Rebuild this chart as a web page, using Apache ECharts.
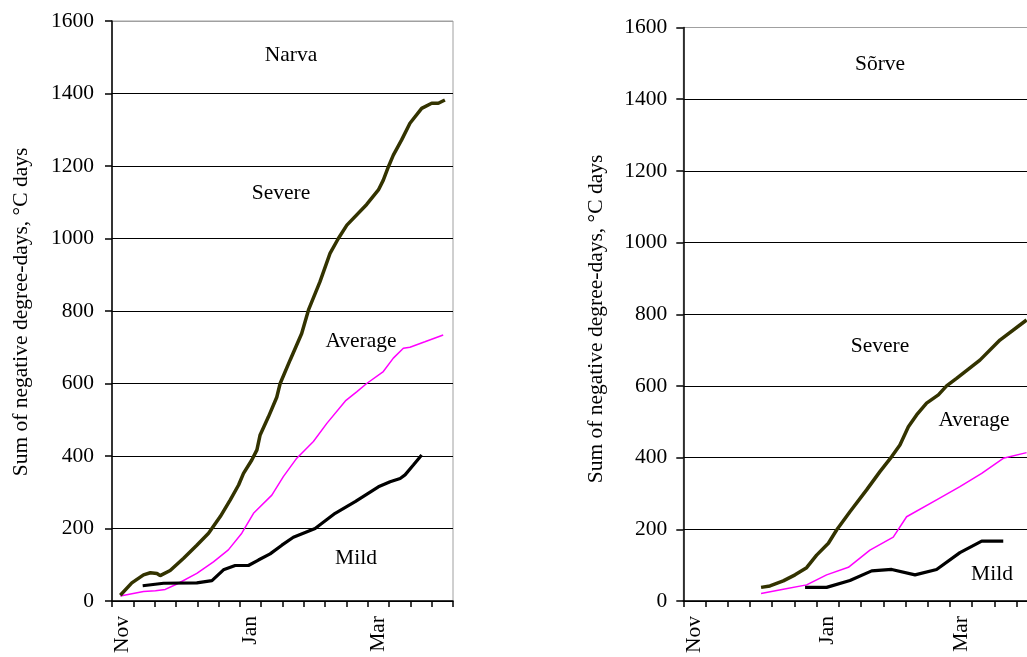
<!DOCTYPE html>
<html>
<head>
<meta charset="utf-8">
<script src="https://cdn.jsdelivr.net/npm/echarts@6/dist/echarts.min.js"></script>
<style>html,body{margin:0;padding:0;background:#fff;overflow:hidden;width:1027px;height:657px;}#c{width:1045px;height:657px;}</style>
</head>
<body>
<div id="c"></div>
<script>
// Category ticks: 16 ten-day periods starting 1 Nov
var xTickLabels = ['Nov','','','','','','Jan','','','','','','Mar','','',''];
var yTicks = [0, 200, 400, 600, 800, 1000, 1200, 1400, 1600];

// [day since 1 Nov, sum of negative degree-days]
var narvaSevere = [[3.9,16],[9.3,50],[14.8,72],[18,78],[21.1,76],[22.6,70],[27.3,84],[33.6,118],[39.8,154],[45.3,187],[50.8,233],[55.5,279],[59.4,320],[61.7,352],[65.6,389],[68,417],[69.5,458],[73.4,508],[77.3,562],[78.9,600],[83.6,665],[89,738],[92.2,803],[97.6,881],[102.3,959],[106.2,1000],[110.2,1037],[119.5,1094],[125,1134],[127.3,1161],[129.7,1198],[132,1230],[135.9,1272],[139.8,1318],[145.3,1359],[150,1373],[153.1,1373],[156.2,1382]];
var narvaAverage = [[3.9,14],[14.8,26],[20.4,28],[25,32],[30.5,47],[39.8,76],[47.6,108],[54.6,141],[60.9,187],[66.4,242],[75,292],[80.4,343],[86.7,394],[94.5,440],[100.8,490],[109.5,552],[114.8,577],[119.5,600],[127.3,633],[132,670],[136.7,697],[139.8,700],[146.8,715],[155.4,734]];
var narvaMild = [[14.4,42],[24.2,49],[39.8,50],[46.9,56],[52.3,86],[57.8,98],[64,98],[68.7,113],[74.2,130],[79.7,154],[85.1,176],[95.3,200],[104.7,242],[114.1,274],[125,315],[130.5,329],[135.2,338],[137.5,348],[141.4,375],[145.3,403]];
var sorveSevere = [[35,38],[39,42],[45,56],[50.3,73],[55.5,93],[60,128],[65.3,161],[69,198],[75,249],[82.5,310],[88.5,361],[93.8,403],[97.5,435],[101.3,486],[105,519],[109.5,552],[114.8,575],[118.5,600],[123,621],[133.5,672],[142.5,728],[154.5,784]];
var sorveAverage = [[35,21],[45,33],[55.5,45],[64.5,73],[74.3,94],[84,142],[94.5,178],[100.5,235],[114,282],[124.5,319],[134.3,356],[144,398],[154.5,414]];
var sorveMild = [[54.8,38],[64.5,38],[75,57],[84.8,84],[93.8,88],[104.3,73],[114,88],[124.5,135],[134.3,167],[144,167]];

var FONT = 'Liberation Serif';
var FS = 21.5;
var splitColors = yTicks.map(function (v, i) { return i === yTicks.length - 1 ? '#a0a0a0' : '#000'; });

function catAxis(gi) {
  return {
    type: 'category', gridIndex: gi, data: xTickLabels, boundaryGap: true,
    axisLine: { lineStyle: { color: '#000', width: 1.5 } },
    axisTick: { show: true, length: 6, interval: 0, lineStyle: { color: '#000', width: 1.5 } },
    axisLabel: { interval: 0, rotate: 90, margin: 15, color: '#000', fontFamily: FONT, fontSize: FS },
    splitLine: { show: false }
  };
}
function valXAxis(gi) {
  return { type: 'value', gridIndex: gi, min: 0, max: 160, show: false };
}
function yAx(gi, margin) {
  return {
    type: 'value', gridIndex: gi, min: 0, max: 1600, interval: 200,
    axisLine: { show: true, lineStyle: { color: '#000', width: 1.5 } },
    axisTick: { show: true, length: 7, lineStyle: { color: '#000', width: 1.5 } },
    axisLabel: { margin: margin, color: '#000', fontFamily: FONT, fontSize: FS,
      formatter: function (v) { return String(v); } },
    splitLine: { show: true, lineStyle: { color: splitColors, width: 1 } }
  };
}
function line(data, xi, yi, color, width) {
  return { type: 'line', xAxisIndex: xi, yAxisIndex: yi, data: data, showSymbol: false, symbol: 'none',
    lineStyle: { color: color, width: width }, itemStyle: { color: color }, silent: true, animation: false };
}
function txt(x, y, s, rot) {
  return { type: 'text', x: x, y: y, rotation: rot || 0,
    style: { text: s, font: FS + 'px "' + FONT + '"', fill: '#000', textAlign: 'center', textVerticalAlign: 'middle' } };
}

var chart = echarts.init(document.getElementById('c'));
chart.setOption({
  animation: false,
  backgroundColor: '#fff',
  grid: [
    { left: 112, top: 21, width: 341, height: 580, show: true, borderColor: '#a0a0a0', borderWidth: 1 },
    { left: 683.3, top: 27.5, width: 355.5, height: 573.5, show: true, borderColor: '#a0a0a0', borderWidth: 1 }
  ],
  xAxis: [catAxis(0), valXAxis(0), catAxis(1), valXAxis(1)],
  yAxis: [yAx(0, 18), yAx(1, 16)],
  series: [
    line(narvaAverage, 1, 0, '#ff00ff', 1.5),
    line(narvaMild, 1, 0, '#000000', 3.2),
    line(narvaSevere, 1, 0, '#333300', 3.5),
    line(sorveAverage, 3, 1, '#ff00ff', 1.5),
    line(sorveMild, 3, 1, '#000000', 3.2),
    line(sorveSevere, 3, 1, '#333300', 3.5)
  ],
  graphic: [
    txt(21, 312, 'Sum of negative degree-days, °C days', Math.PI / 2),
    txt(596, 319, 'Sum of negative degree-days, °C days', Math.PI / 2),
    txt(291, 55, 'Narva'),
    txt(281, 193, 'Severe'),
    txt(361, 341, 'Average'),
    txt(356, 558, 'Mild'),
    txt(880, 64, 'Sõrve'),
    txt(880, 346, 'Severe'),
    txt(974, 420, 'Average'),
    txt(992, 574, 'Mild')
  ]
});
</script>
</body>
</html>
